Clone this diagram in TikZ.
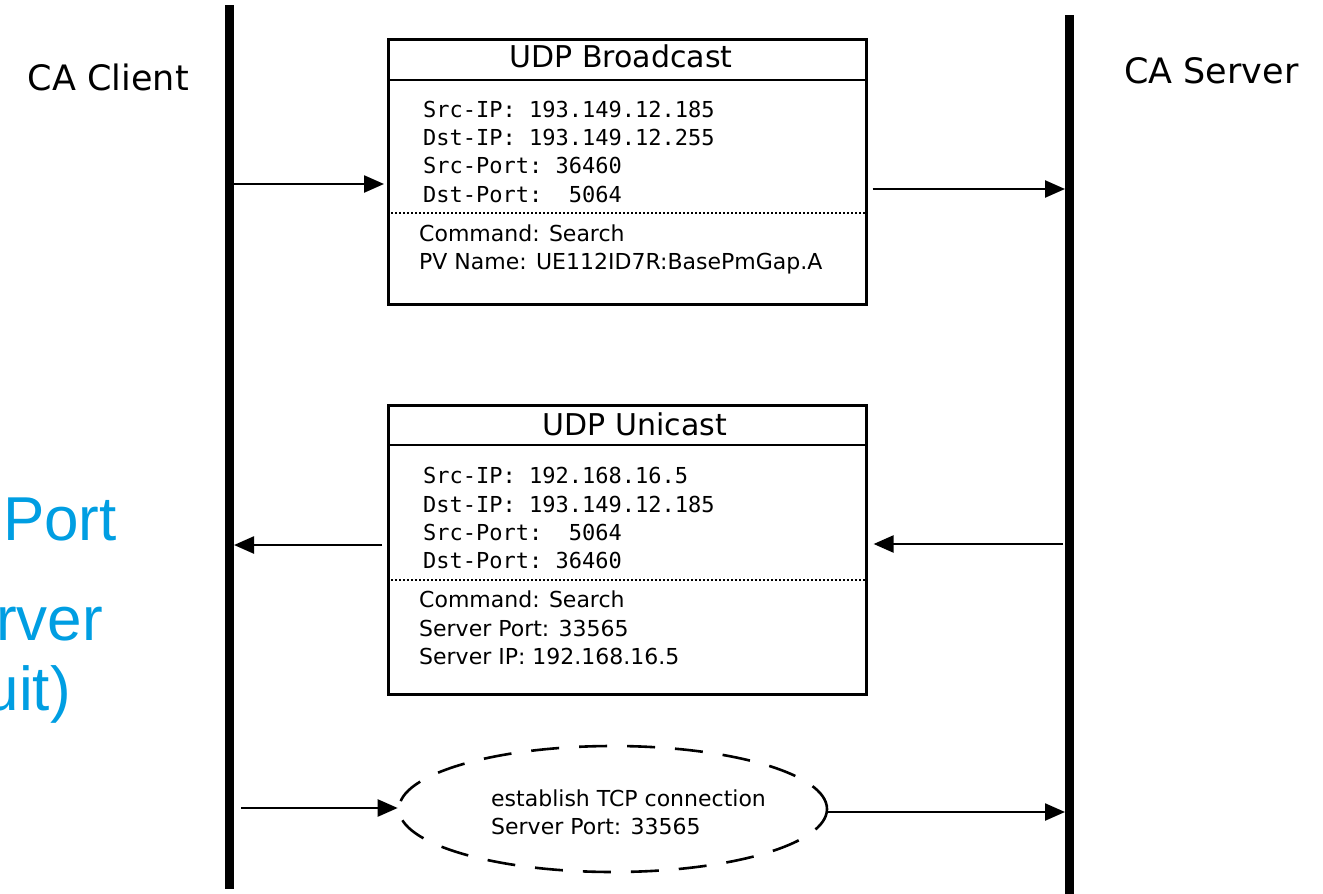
\documentclass[tikz,border=0pt]{standalone}
\usepackage{fontspec}
\setmainfont{DejaVu Sans}
\setmonofont{DejaVu Sans Mono}
\newfontfamily\calloutfont{Liberation Sans}
\usetikzlibrary{arrows.meta,shapes.geometric}
\definecolor{calloutblue}{RGB}{0,158,226}

\begin{document}
\begin{tikzpicture}[x=1pt,y=-1pt,
  lifeline/.style={line width=9pt},
  msg/.style={line width=2.4pt,-{Triangle[length=20pt,width=17pt]}},
  packet/.style={draw,line width=2.6pt,minimum width=478pt,inner sep=0pt,anchor=north west},
  rule/.style={line width=2.6pt},
  dotrule/.style={line width=2.2pt,dash pattern=on 2pt off 2pt},
  party/.style={inner sep=0pt,font=\fontsize{35}{42}\selectfont},
  title/.style={inner sep=0pt,anchor=base,font=\fontsize{30}{36}\selectfont},
  field/.style={inner sep=0pt,anchor=base west,font=\ttfamily\fontsize{22}{28}\selectfont},
  info/.style={inner sep=0pt,anchor=base west,font=\fontsize{22}{28}\selectfont},
  callout/.style={inner sep=0pt,anchor=base east,text=calloutblue,font=\calloutfont\fontsize{62}{70}\selectfont},
  session/.style={ellipse,draw,line width=2.6pt,dash pattern=on 28pt off 20pt,
    minimum width=428pt,minimum height=126pt,inner sep=0pt}
]
\useasboundingbox (0,0) rectangle (1323,894);

% party names
\node[party,anchor=base east] (client) at (189,90) {CA Client};
\node[party,anchor=base west] (server) at (1124,83) {CA Server};

% callout text running in from the left edge
\node[callout] (cport) at (117,540) {Port};
\node[callout] (cserver) at (103,640) {rver};
\node[callout] (ccircuit) at (71,710) {uit)};

% lifelines
\coordinate (cltop) at (229,5);
\coordinate (clbot) at (229,889);
\coordinate (svtop) at (1069,15);
\coordinate (svbot) at (1069,894);
\draw[lifeline] (cltop) -- (clbot);
\draw[lifeline] (svtop) -- (svbot);

% UDP broadcast packet
\node[packet,minimum height=265pt] (bcast) at (387,38) {};
\draw[rule] (387,80) -- (865,80);
\draw[dotrule] (387,213) -- (865,213);
\node[title] (bctitle) at (621,67) {UDP Broadcast};
\node[field] (bc1) at (423,117) {Src-IP: 193.149.12.185};
\node[field] (bc2) at (423,145) {Dst-IP: 193.149.12.255};
\node[field] (bc3) at (423,173) {Src-Port: 36460};
\node[field] (bc4) at (423,202) {Dst-Port:\ \ 5064};
\node[info] (bc5) at (419,241) {Command: Search};
\node[info] (bc6) at (419,269) {PV Name: UE112ID7R:BasePmGap.A};

% UDP unicast packet
\node[packet,minimum height=289pt] (ucast) at (387,404) {};
\draw[rule] (387,445) -- (865,445);
\draw[dotrule] (387,580) -- (865,580);
\node[title] (uctitle) at (635,435) {UDP Unicast};
\node[field] (uc1) at (423,483) {Src-IP: 192.168.16.5};
\node[field] (uc2) at (423,512) {Dst-IP: 193.149.12.185};
\node[field] (uc3) at (423,540) {Src-Port:\ \ 5064};
\node[field] (uc4) at (423,568) {Dst-Port: 36460};
\node[info] (uc5) at (419,607) {Command: Search};
\node[info] (uc6) at (419,636) {Server Port: 33565};
\node[info] (uc7) at (419,664) {Server IP: 192.168.16.5};

% TCP connection
\node[session] (tcp) at (613,809) {};
\node[info] (tcp1) at (491,806) {establish TCP connection};
\node[info] (tcp2) at (491,834) {Server Port: 33565};

% messages
\coordinate (m1) at (234,184);
\coordinate (m2) at (1065,189);
\coordinate (m3) at (1063,544);
\coordinate (m4) at (234,545);
\coordinate (m5) at (241,808);
\coordinate (m6) at (1065,812);
\draw[msg,shorten >=3pt] (m1) -- (bcast.west |- m1);
\draw[msg,shorten <=5pt] (bcast.east |- m2) -- (m2);
\draw[msg,shorten >=6pt] (m3) -- (ucast.east |- m3);
\draw[msg,shorten <=5pt] (ucast.west |- m4) -- (m4);
\draw[msg] (m5) -- (tcp.west |- m5);
\draw[msg] (tcp.east |- m6) -- (m6);
\end{tikzpicture}
\end{document}
